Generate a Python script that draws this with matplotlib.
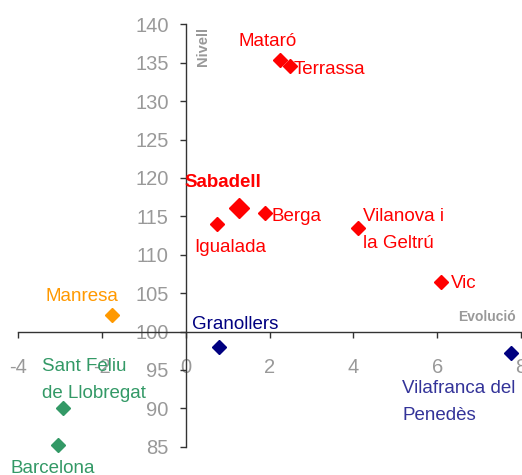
import matplotlib
matplotlib.use("Agg")
import matplotlib.pyplot as plt

# ---- data ----
cities = ["Mataró", "Terrassa", "Sabadell", "Igualada", "Berga",
          "Vilanova i\nla Geltrú", "Vic", "Manresa", "Granollers",
          "Vilafranca del\nPenedès", "Sant Feliu\nde Llobregat", "Barcelona"]
evolucio = [2.24, 2.49, 1.27, 0.75, 1.89, 4.12, 6.09, -1.75, 0.79, 7.77, -2.92, -3.04]
nivell = [135.4, 134.6, 116.1, 114.0, 115.4, 113.5, 106.4, 102.1, 98.0, 97.2, 90.0, 85.2]
x_ticks = [-4, -2, 0, 2, 4, 6, 8]
y_ticks = [85, 90, 95, 100, 105, 110, 115, 120, 125, 130, 135, 140]

# ---- styles ----
RED, ORANGE, NAVY, GREEN = "#FF0000", "#FF9900", "#000080", "#339966"
marker_col = [RED]*7 + [ORANGE, NAVY, NAVY, GREEN, GREEN]
text_col = [RED]*7 + [ORANGE, NAVY, "#333399", GREEN, GREEN]
msize = [6.7]*12
msize[2] = 10.2
# label offsets in pixels (dx right, dy down), horizontal alignment
offs = [(-12, -18, "center"), (4, 4, "left"), (-16, -25, "center"), (13, 24, "center"),
        (7, 3, "left"), (5, 2, "left"), (10, 1, "left"), (-30, -19, "center"),
        (-27, -22, "left"), (-109, 49, "left"), (-21, -28, "left"), (-5, 23, "center")]

plt.rcParams['font.family'] = ['Liberation Sans', 'DejaVu Sans']
plt.rcParams['axes.unicode_minus'] = False
fig = plt.figure(figsize=(5.22, 4.75), dpi=100)
ax = fig.add_axes([18/522, (475-446.7)/475, 503/522, (446.7-24.3)/475])
ax.set_xlim(-4, 8)
ax.set_ylim(85, 140)

for i, name in enumerate(cities):
    ax.plot(evolucio[i], nivell[i], marker="D", ms=msize[i], color=marker_col[i],
            mec=marker_col[i], ls="none", clip_on=False, zorder=3)
    dx, dy, ha = offs[i]
    ax.annotate(name, (evolucio[i], nivell[i]), xytext=(dx*0.72, -dy*0.72),
                textcoords="offset points", ha=ha, va="center", color=text_col[i],
                fontsize=13.5, fontweight="bold" if name == "Sabadell" else "normal",
                linespacing=1.75, multialignment="left", zorder=4)

ax.spines["left"].set_position(("data", 0))
ax.spines["bottom"].set_position(("data", 100))
ax.spines["right"].set_visible(False)
ax.spines["top"].set_visible(False)
for s in ("left", "bottom"):
    ax.spines[s].set_color("#333333")
    ax.spines[s].set_linewidth(1.0)
ax.set_xticks(x_ticks)
ax.set_yticks(y_ticks)
ax.tick_params(axis="both", colors="#333333", labelcolor="#999999", labelsize=14.5,
               direction="out", length=4.3, width=1.0)
ax.tick_params(axis="x", pad=15)
ax.tick_params(axis="y", pad=8)
ax.patch.set_visible(False)

ax.text(203/522, 1 - 47/475, "Nivell", transform=fig.transFigure, rotation=90,
        ha="center", va="center", color="#999999", fontsize=10.5, fontweight="bold")
ax.text(516/522, 1 - 317/475, "Evolució", transform=fig.transFigure,
        ha="right", va="center", color="#999999", fontsize=10, fontweight="bold")

fig.savefig("out.png", dpi=100)
